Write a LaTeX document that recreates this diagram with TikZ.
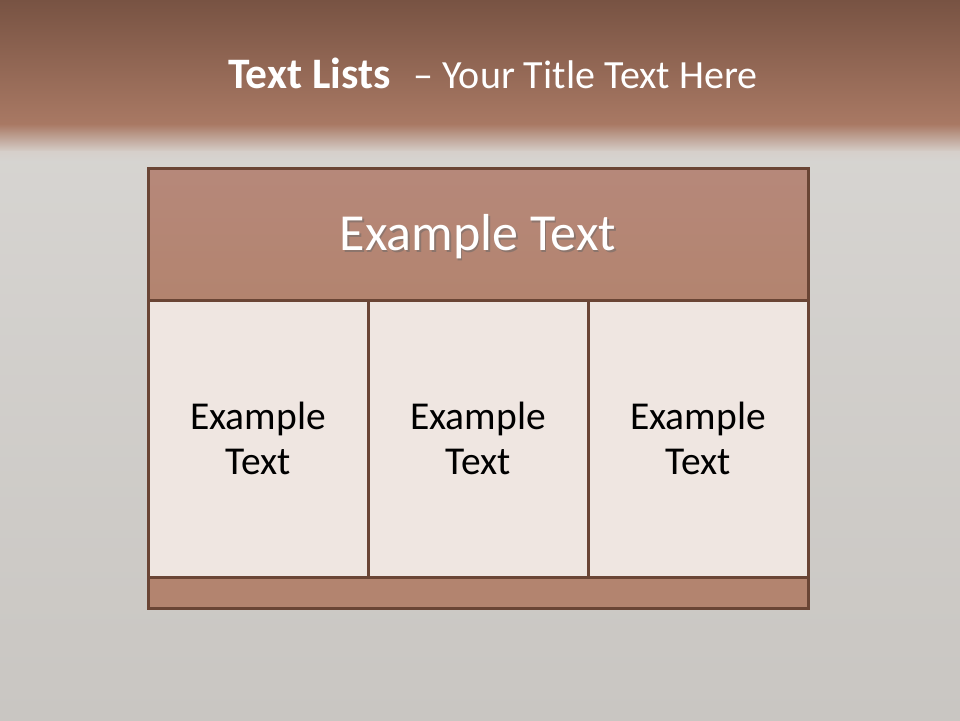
\documentclass[tikz,border=0pt]{standalone}
\usepackage{fontspec}
\setmainfont{Carlito}
\usepackage{xcolor}
\usetikzlibrary{positioning}
\definecolor{bandtop}{HTML}{785343}
\definecolor{bandlow}{HTML}{A97964}
\definecolor{fadegrey}{HTML}{D6CFCA}
\definecolor{slate}{HTML}{CCC9C5}
\definecolor{slatelow}{HTML}{C9C6C2}
\definecolor{rim}{HTML}{6A4535}
\definecolor{clay}{HTML}{B3846F}
\definecolor{claytop}{HTML}{B6887A}
\definecolor{shell}{HTML}{EFE6E1}

\begin{document}
\begin{tikzpicture}[x=1pt,y=-1pt,node distance=0pt,
  blk/.style={draw=rim,line width=3pt,outer sep=0pt,inner sep=0pt,align=center},
  cell/.style={blk,fill=shell,minimum width=220pt,minimum height=277pt,font=\fontsize{39.5}{45}\selectfont},
  shadowtxt/.style={text=black!60,opacity=0.5}]
% background
\useasboundingbox (0,0) rectangle (960,720);
\fill[top color=slate!80!white,bottom color=slatelow] (0,160) rectangle (960,720);
\fill[top color=bandtop,bottom color=bandlow] (0,0) rectangle (960,125);
\fill[top color=bandlow,bottom color=fadegrey] (0,124) rectangle (960,152);
\fill[top color=fadegrey,bottom color=slate!80!white] (0,151) rectangle (960,161);
% title
\node[anchor=base west,inner sep=0pt,text=white,font=\fontsize{40}{48}\selectfont] (title) at (228,88)
  {{\fontsize{43.5}{48}\selectfont\textbf{Text Lists}}\hspace{23pt}-- Your Title Text Here};
% table
\node[blk,top color=claytop,bottom color=clay,minimum width=660pt,minimum height=132pt] (head) at (478,234) {};
\node[shadowtxt,font=\fontsize{52}{60}\selectfont] at ([xshift=1.5pt,yshift=-4.5pt]head.center) {Example Text};
\node[text=white,font=\fontsize{52}{60}\selectfont] (headtxt) at ([yshift=-3pt]head.center) {Example Text};
\node[cell,below=of head.south west,anchor=north west] (c1) {Example\\Text};
\node[cell,right=of c1] (c2) {Example\\Text};
\node[cell,right=of c2] (c3) {Example\\Text};
\node[blk,fill=clay,minimum width=660pt,minimum height=31pt,below=of c2] (foot) {};
\end{tikzpicture}
\end{document}
